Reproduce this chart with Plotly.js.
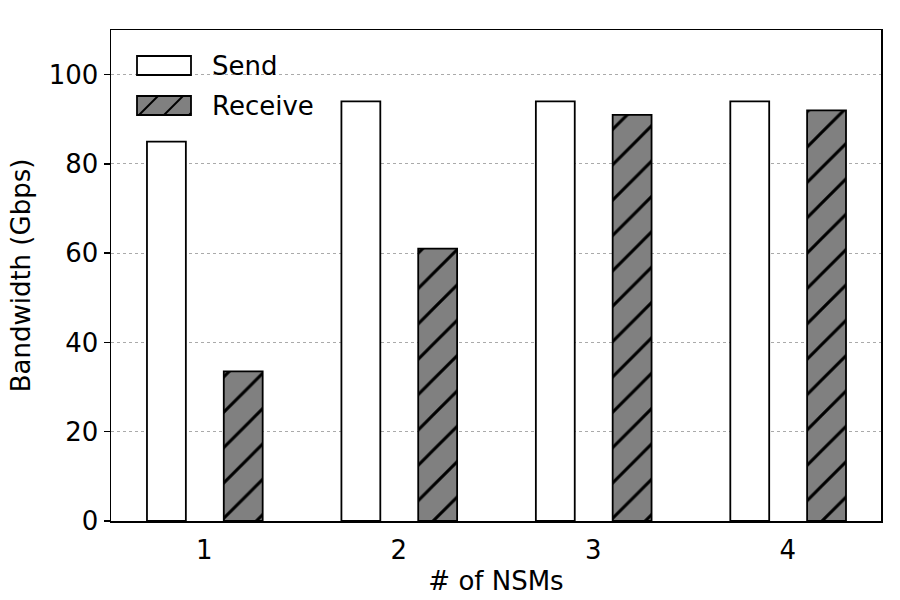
<!DOCTYPE html>
<html>
<head>
<meta charset="utf-8">
<script src="https://cdn.plot.ly/plotly-3.0.1.min.js"></script>
<style>html,body{margin:0;padding:0;background:#fff;}#chart{width:900px;height:600px;}</style>
</head>
<body>
<div id="chart"></div>
<script>
// ---- data ----
const categories = [1, 2, 3, 4];
const tickLabels = ["1", "2", "3", "4"];
const sendValues = [85, 94, 94, 94];
const receiveValues = [33.5, 61, 91, 92];
const seriesNames = ["Send", "Receive"];

// ---- layout constants ----
const W = 900, H = 600;
const M = {l: 111, r: 19, t: 30, b: 79};
const PW = W - M.l - M.r, PH = H - M.t - M.b;
const FONT = "DejaVu Sans, sans-serif";
const FS = 26;

function px2paperX(x) { return (x - M.l) / PW; }
function px2paperY(y) { return (H - M.b - y) / PH; }

const traces = [
  {
    type: "bar", name: seriesNames[0], x: categories, y: sendValues,
    width: 0.2, offset: -0.295,
    marker: {color: "#ffffff", line: {color: "#000000", width: 1.8}},
    showlegend: false, hoverinfo: "skip"
  },
  {
    type: "bar", name: seriesNames[1], x: categories, y: receiveValues,
    width: 0.2, offset: 0.1,
    marker: {
      color: "#808080", line: {color: "#000000", width: 1.8},
      pattern: {shape: "/", size: 25, solidity: 0.12, fgcolor: "#000000", fgopacity: 1, bgcolor: "#808080", fillmode: "overlay"}
    },
    showlegend: false, hoverinfo: "skip"
  }
];

// ---- custom legend (shapes + text) ----
const shapes = [];
const annotations = [];
const boxX0 = 137, boxX1 = 191;
const rows = [{y0: 56, y1: 75}, {y0: 96, y1: 115}];
shapes.push({type: "rect", xref: "paper", yref: "paper",
  x0: px2paperX(boxX0), x1: px2paperX(boxX1), y0: px2paperY(rows[0].y1), y1: px2paperY(rows[0].y0),
  fillcolor: "#ffffff", line: {color: "#000000", width: 1.8}});
shapes.push({type: "rect", xref: "paper", yref: "paper",
  x0: px2paperX(boxX0), x1: px2paperX(boxX1), y0: px2paperY(rows[1].y1), y1: px2paperY(rows[1].y0),
  fillcolor: "#808080", line: {color: "#000000", width: 1.8}});
(function () {
  const y0 = rows[1].y0, y1 = rows[1].y1, h = y1 - y0;
  for (let k = -2; k < 4; k++) {
    const bx = boxX0 + 2 + k * 25;
    let xa = bx, ya = y1, xb = bx + h, yb = y0;
    if (xa < boxX0) { ya = y1 - (boxX0 - xa); xa = boxX0; }
    if (xb > boxX1) { yb = y0 + (xb - boxX1); xb = boxX1; }
    if (xa >= xb || ya <= yb) continue;
    shapes.push({type: "line", xref: "paper", yref: "paper",
      x0: px2paperX(xa), y0: px2paperY(ya), x1: px2paperX(xb), y1: px2paperY(yb),
      line: {color: "#000000", width: 2}});
  }
})();
annotations.push({xref: "paper", yref: "paper", x: px2paperX(210), y: px2paperY(65.5),
  xanchor: "left", yanchor: "middle", text: seriesNames[0], showarrow: false,
  font: {family: FONT, size: FS, color: "#000"}});
annotations.push({xref: "paper", yref: "paper", x: px2paperX(210), y: px2paperY(105.5),
  xanchor: "left", yanchor: "middle", text: seriesNames[1], showarrow: false,
  font: {family: FONT, size: FS, color: "#000"}});

const layout = {
  width: W, height: H,
  margin: M,
  paper_bgcolor: "#ffffff", plot_bgcolor: "#ffffff",
  font: {family: FONT, size: FS, color: "#000"},
  showlegend: false,
  xaxis: {
    range: [0.52, 4.48],
    tickmode: "array", tickvals: categories, ticktext: tickLabels,
    ticks: "outside", ticklen: 5, tickcolor: "rgba(0,0,0,0)",
    showgrid: false, zeroline: false,
    showline: true, linecolor: "#000", linewidth: 1.5, mirror: true,
    tickfont: {family: FONT, size: FS, color: "#000"},
    title: {text: "# of NSMs", font: {family: FONT, size: FS, color: "#000"}, standoff: 8}
  },
  yaxis: {
    range: [0, 110],
    tickmode: "array", tickvals: [0, 20, 40, 60, 80, 100],
    ticks: "outside", ticklen: 6, tickwidth: 1.5, tickcolor: "#000",
    showgrid: true, gridcolor: "#aaaaaa", gridwidth: 1, griddash: "dot",
    zeroline: false,
    showline: true, linecolor: "#000", linewidth: 1.5, mirror: true,
    tickfont: {family: FONT, size: FS, color: "#000"},
    title: {text: "Bandwidth (Gbps)", font: {family: FONT, size: FS, color: "#000"}, standoff: 10}
  },
  shapes: shapes,
  annotations: annotations
};

Plotly.newPlot("chart", traces, layout, {staticPlot: true, displayModeBar: false});
</script>
</body>
</html>
